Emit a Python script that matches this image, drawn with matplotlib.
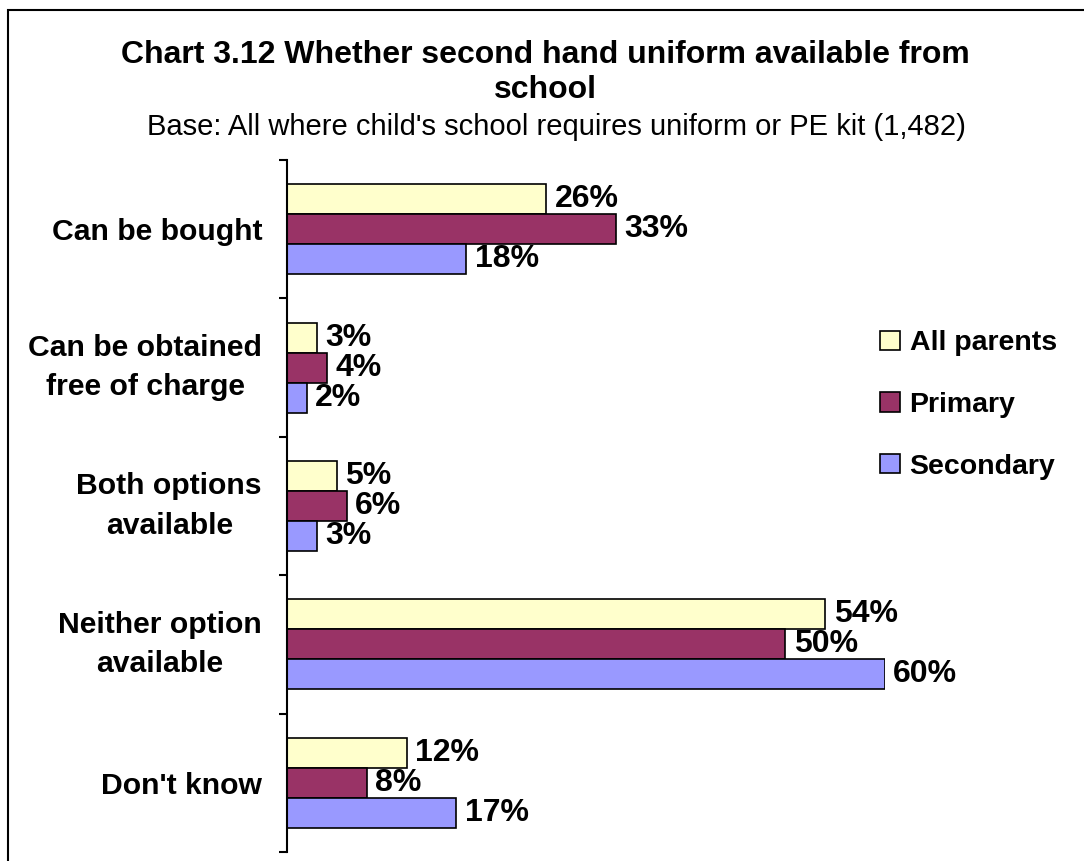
import numpy as np
import matplotlib
matplotlib.use("Agg")
import matplotlib.pyplot as plt
from matplotlib.patches import Rectangle

plt.rcParams['font.family'] = ['Liberation Sans', 'DejaVu Sans']

# data
categories = ["Can be bought", "Can be obtained\nfree of charge", "Both options\navailable",
              "Neither option\navailable", "Don't know"]
series_names = ["All parents", "Primary", "Secondary"]
all_parents = [26, 3, 5, 54, 12]
primary = [33, 4, 6, 50, 8]
secondary = [18, 2, 3, 60, 17]
colours = ["#FFFFCC", "#993366", "#9999FF"]

fig = plt.figure(figsize=(10.84, 8.61), dpi=100)
ax = fig.add_axes([287/1084, 1-852/861, 598/1084, 692/861])

y = np.arange(len(categories))
h = 0.217
for k, (vals, name, col) in enumerate(zip([all_parents, primary, secondary], series_names, colours)):
    pos = y + (k-1)*h
    ax.barh(pos, vals, height=h, color=col, edgecolor='black', linewidth=1.2, label=name)
    for p, v in zip(pos, vals):
        ax.annotate(f"{v}%", (v, p), xytext=(6, 0), textcoords='offset points',
                    ha='left', va='center', fontsize=23, fontweight='bold',
                    annotation_clip=False)

ax.set_xlim(0, 60)
ax.set_ylim(len(categories)-0.5, -0.5)
ax.set_xticks([])
ax.set_yticks(y)
ax.set_yticklabels(categories, fontsize=21.7, fontweight='bold')
for t in ax.get_yticklabels():
    t.set_multialignment('center')
    t.set_linespacing(1.5)
    if "\n" in t.get_text():
        t.set_va('center')
ax.set_yticks(np.arange(-0.5, len(categories)), minor=True)
ax.tick_params(axis='y', which='major', length=0, pad=18)
ax.tick_params(axis='y', which='minor', length=6, width=1.5, direction='out')
for s in ['top', 'right', 'bottom']:
    ax.spines[s].set_visible(False)
ax.spines['left'].set_linewidth(1.5)

fig.text(0.503, 0.936, "Chart 3.12 Whether second hand uniform available from",
         ha='center', va='center', fontsize=23, fontweight='bold')
fig.text(0.503, 0.895, "school", ha='center', va='center', fontsize=23, fontweight='bold')
fig.text(0.513, 0.852, "Base: All where child's school requires uniform or PE kit (1,482)",
         ha='center', va='center', fontsize=21)

ax.legend(loc='center left', bbox_to_anchor=(866/1084, 1-405/861), bbox_transform=fig.transFigure,
          frameon=False, borderpad=0, prop={'weight': 'bold', 'size': 20.5},
          handlelength=0.68, handleheight=0.68, handletextpad=0.35, labelspacing=1.25)

fig.patches.append(Rectangle((8/1084, -0.1), 1.2, 1-10/861+0.1, transform=fig.transFigure,
                             fill=False, edgecolor='black', linewidth=1.5))

fig.savefig("out.png", dpi=100)
